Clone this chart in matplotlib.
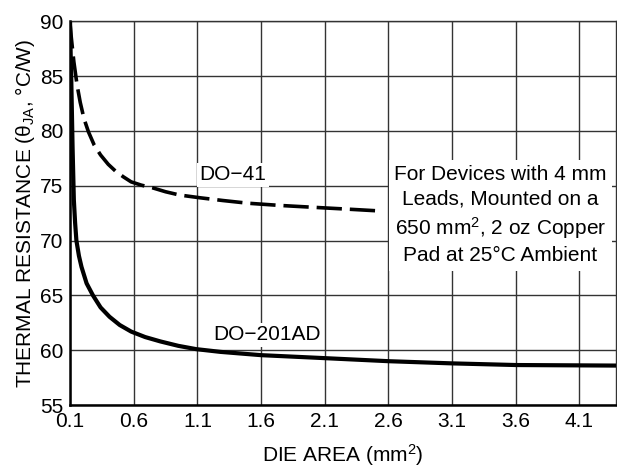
import matplotlib
matplotlib.use("Agg")
import matplotlib.pyplot as plt

plt.rcParams['font.family'] = ['Liberation Sans', 'DejaVu Sans']
plt.rcParams['mathtext.fontset'] = 'custom'
plt.rcParams['mathtext.rm'] = 'Liberation Sans'
plt.rcParams['mathtext.it'] = 'Liberation Sans'
plt.rcParams['mathtext.default'] = 'regular'

# DO-201AD (solid)
do201_x = [0.10, 0.105, 0.11, 0.12, 0.13, 0.14, 0.15, 0.17, 0.19, 0.23, 0.28, 0.34, 0.41, 0.49, 0.58, 0.69,
           0.81, 0.95, 1.09, 1.28, 1.6, 2.06, 2.6, 3.1, 3.6, 4.39]
do201_y = [90.0, 87.0, 84.5, 78.5, 73.7, 71.6, 70.0, 68.6, 67.6, 66.1, 65.0, 63.9, 63.05, 62.3, 61.7, 61.2,
           60.8, 60.4, 60.1, 59.85, 59.55, 59.3, 59.0, 58.8, 58.65, 58.6]

# DO-41 (dashed)
do41_x = [0.10, 0.11, 0.13, 0.155, 0.18, 0.21, 0.245, 0.29, 0.34, 0.40, 0.46, 0.52, 0.58, 0.66, 0.75,
          0.85, 0.96, 1.12, 1.3, 1.5, 1.75, 2.06, 2.3, 2.53]
do41_y = [89.8, 88.5, 86.3, 84.2, 82.6, 81.1, 79.9, 78.7, 77.8, 76.95, 76.3, 75.8, 75.35, 75.05, 74.8,
          74.45, 74.15, 73.9, 73.65, 73.4, 73.2, 73.0, 72.85, 72.7]

xticks = [0.1, 0.6, 1.1, 1.6, 2.1, 2.6, 3.1, 3.6, 4.1]
yticks = [55, 60, 65, 70, 75, 80, 85, 90]

fs = 15

fig = plt.figure(figsize=(6.17, 4.71), dpi=100)
ax = fig.add_axes([0.1135, 0.140, 0.8855, 0.815])

ax.plot(do201_x, do201_y, color='black', lw=3.0, solid_capstyle='butt', solid_joinstyle='round', zorder=3)
ax.plot(do41_x, do41_y, color='black', lw=2.6, dashes=(7, 2.2), zorder=3)

ax.set_xlim(0.1, 4.39)
ax.set_ylim(55, 90)
ax.set_xticks(xticks)
ax.set_xticklabels([f"{t:.1f}" for t in xticks])
ax.set_yticks(yticks)
ax.grid(True, color='#333333', lw=1.0)
ax.set_axisbelow(True)
ax.tick_params(length=0, labelsize=fs, pad=5)

for side in ['left', 'bottom']:
    ax.spines[side].set_linewidth(1.8)
for side in ['top', 'right']:
    ax.spines[side].set_linewidth(1.0)
    ax.spines[side].set_color('#333333')

ax.set_xlabel("DIE AREA (mm$^2$)", fontsize=fs, labelpad=8)
ax.set_ylabel("THERMAL RESISTANCE (\u03b8$_{JA}$, \u00b0C/W)", fontsize=fs, labelpad=2)

box = dict(facecolor='white', edgecolor='none', pad=2)
ax.text(1.38, 76.0, "DO\u221241", fontsize=fs, ha='center', va='center', bbox=box, zorder=2)
ax.text(1.65, 61.4, "DO\u2212201AD", fontsize=fs, ha='center', va='center', bbox=box, zorder=2)
ax.text(3.48, 72.3, "For Devices with 4 mm\nLeads, Mounted on a\n650 mm$^2$, 2 oz Copper\nPad at 25\u00b0C Ambient",
        fontsize=fs, ha='center', va='center', linespacing=1.35,
        bbox=dict(facecolor='white', edgecolor='none', pad=4), zorder=2)

fig.savefig("out.png", dpi=100)
